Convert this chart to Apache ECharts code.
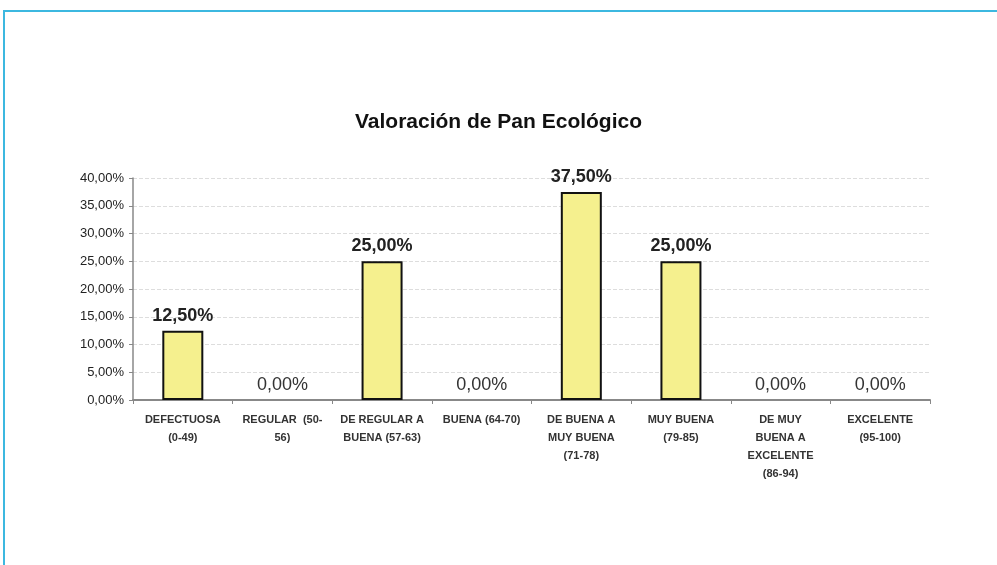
<!DOCTYPE html>
<html>
<head>
<meta charset="utf-8">
<title>Valoración de Pan Ecológico</title>
<script src="https://cdn.jsdelivr.net/npm/echarts@6/dist/echarts.min.js"></script>
<style>
  html, body { margin: 0; padding: 0; background: #fff; }
  #chart { width: 997px; height: 565px; }
</style>
</head>
<body>
<div id="chart"></div>
<script>
// datos de la valoración
var categorias = [
  'DEFECTUOSA\n(0-49)',
  'REGULAR  (50-\n56)',
  'DE REGULAR A\nBUENA (57-63)',
  'BUENA (64-70)',
  'DE BUENA A\nMUY BUENA\n(71-78)',
  'MUY BUENA\n(79-85)',
  'DE MUY\nBUENA A\nEXCELENTE\n(86-94)',
  'EXCELENTE\n(95-100)'
];
var porcentajes = [12.5, 0, 25, 0, 37.5, 25, 0, 0];

function fmt(v) {
  return v.toFixed(2).replace('.', ',') + '%';
}

var chart = echarts.init(document.getElementById('chart'));

// las barras en cero no llevan borde y su etiqueta va sin negrita
var datosBarras = porcentajes.map(function (v) {
  return {
    value: v,
    itemStyle: { borderWidth: v === 0 ? 0 : 2 },
    label: { fontWeight: v === 0 ? 'normal' : 'bold', color: v === 0 ? '#333' : '#222' }
  };
});

var option = {
  backgroundColor: '#fff',
  animation: false,
  title: {
    text: 'Valoración de Pan Ecológico',
    left: 'center',
    top: 107,
    textStyle: {
      fontFamily: 'Liberation Sans, Arial, sans-serif',
      fontSize: 21,
      fontWeight: 'bold',
      color: '#111'
    }
  },
  graphic: [
    { type: 'line', shape: { x1: 3, y1: 11, x2: 997, y2: 11 }, style: { stroke: '#3cb8e0', lineWidth: 2 } },
    { type: 'line', shape: { x1: 4, y1: 11, x2: 4, y2: 565 }, style: { stroke: '#3cb8e0', lineWidth: 2 } }
  ],
  grid: {
    left: 133,
    right: 67,
    top: 178,
    bottom: 165
  },
  xAxis: {
    type: 'category',
    data: categorias,
    axisLine: { lineStyle: { color: '#888', width: 2 } },
    axisTick: { show: true, alignWithLabel: false, length: 4, lineStyle: { color: '#888' } },
    axisLabel: {
      interval: 0,
      margin: 11,
      color: '#333',
      fontFamily: 'Liberation Sans, Arial, sans-serif',
      fontSize: 11,
      fontWeight: 'bold',
      lineHeight: 18
    }
  },
  yAxis: {
    type: 'value',
    min: 0,
    max: 40,
    interval: 5,
    axisLine: { show: true, lineStyle: { color: '#888', width: 1.5 } },
    axisTick: { show: true, length: 4, lineStyle: { color: '#888' } },
    axisLabel: {
      formatter: function (v) { return fmt(v); },
      color: '#222',
      fontFamily: 'Liberation Sans, Arial, sans-serif',
      fontSize: 13,
      margin: 9
    },
    splitLine: { lineStyle: { color: '#ddd', type: 'dashed', width: 1 } }
  },
  series: [{
    type: 'bar',
    data: datosBarras,
    barWidth: 41,
    itemStyle: {
      color: '#f5f08e',
      borderColor: '#111',
      borderWidth: 2
    },
    label: {
      show: true,
      position: 'top',
      distance: 6,
      formatter: function (p) { return fmt(p.value); },
      color: '#222',
      fontFamily: 'Liberation Sans, Arial, sans-serif',
      fontSize: 18,
      fontWeight: 'bold'
    }
  }]
};

chart.setOption(option);
</script>
</body>
</html>
